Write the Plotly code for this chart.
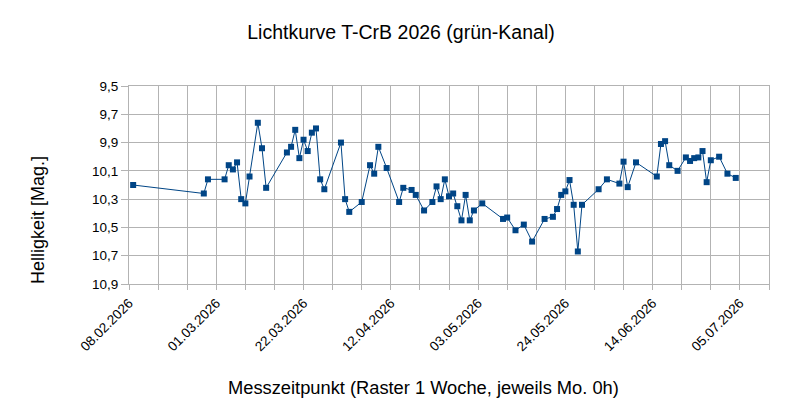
import plotly.graph_objects as go
import pandas as pd

dates = [
    "2026-02-09", "2026-02-26", "2026-02-27", "2026-03-03", "2026-03-04", "2026-03-05",
    "2026-03-06", "2026-03-07", "2026-03-08", "2026-03-09", "2026-03-11", "2026-03-12",
    "2026-03-13", "2026-03-18", "2026-03-19", "2026-03-20", "2026-03-21", "2026-03-22",
    "2026-03-23", "2026-03-24", "2026-03-25", "2026-03-26", "2026-03-27", "2026-03-31",
    "2026-04-01", "2026-04-02", "2026-04-05", "2026-04-07", "2026-04-08", "2026-04-09",
    "2026-04-11", "2026-04-14", "2026-04-15", "2026-04-17", "2026-04-18", "2026-04-20",
    "2026-04-22", "2026-04-23", "2026-04-24", "2026-04-25", "2026-04-26", "2026-04-27",
    "2026-04-28", "2026-04-29", "2026-04-30", "2026-05-01", "2026-05-02", "2026-05-04",
    "2026-05-09", "2026-05-10", "2026-05-12", "2026-05-14", "2026-05-16", "2026-05-19",
    "2026-05-21", "2026-05-22", "2026-05-23", "2026-05-24", "2026-05-25", "2026-05-26",
    "2026-05-27", "2026-05-28", "2026-06-01", "2026-06-03", "2026-06-06", "2026-06-07",
    "2026-06-08", "2026-06-10", "2026-06-15", "2026-06-16", "2026-06-17", "2026-06-18",
    "2026-06-20", "2026-06-22", "2026-06-23", "2026-06-24", "2026-06-25", "2026-06-26",
    "2026-06-27", "2026-06-28", "2026-06-30", "2026-07-02", "2026-07-04",
]
magnitudes = [
    10.20, 10.26, 10.16, 10.16, 10.06, 10.09,
    10.04, 10.30, 10.33, 10.14, 9.76, 9.94,
    10.22, 9.97, 9.93, 9.81, 10.01, 9.88,
    9.96, 9.83, 9.80, 10.16, 10.23, 9.90,
    10.30, 10.39, 10.32, 10.06, 10.12, 9.93,
    10.08, 10.32, 10.22, 10.235, 10.27, 10.38,
    10.32, 10.21, 10.30, 10.16, 10.28, 10.26,
    10.35, 10.45, 10.27, 10.45, 10.38, 10.33,
    10.44, 10.43, 10.52, 10.48, 10.60, 10.44,
    10.425, 10.37, 10.27, 10.245, 10.165, 10.34,
    10.67, 10.34, 10.23, 10.16, 10.19, 10.035,
    10.215, 10.04, 10.14, 9.91, 9.89, 10.06,
    10.10, 10.005, 10.03, 10.01, 10.005, 9.96,
    10.18, 10.025, 10.00, 10.12, 10.15,
]

y_tick_vals = [9.5, 9.7, 9.9, 10.1, 10.3, 10.5, 10.7, 10.9]
y_tick_text = ["9,5", "9,7", "9,9", "10,1", "10,3", "10,5", "10,7", "10,9"]

week_ticks = pd.date_range("2026-02-08", "2026-07-12", freq="7D")
labelled = ["08.02.2026", "01.03.2026", "22.03.2026", "12.04.2026",
            "03.05.2026", "24.05.2026", "14.06.2026", "05.07.2026"]
x_tick_vals = [d.strftime("%Y-%m-%d") for d in week_ticks]
x_tick_text = [d.strftime("%d.%m.%Y") if d.strftime("%d.%m.%Y") in labelled else ""
               for d in week_ticks]

blue = "#004586"
grid = "#b3b3b3"
font = "Liberation Sans, Arial, sans-serif"

fig = go.Figure()
fig.add_trace(go.Scatter(
    x=dates, y=magnitudes, mode="lines+markers",
    line=dict(color=blue, width=1),
    marker=dict(symbol="square", size=6, color=blue),
    showlegend=False,
))

fig.update_layout(
    width=800, height=420,
    margin=dict(l=129, r=31, t=86, b=136),
    paper_bgcolor="white", plot_bgcolor="white",
    font=dict(family=font, color="#000000"),
    title=dict(text="Lichtkurve T-CrB 2026 (grün-Kanal)", x=401 / 800, xanchor="center",
               xref="container",
               y=1 - 32 / 420, yanchor="middle", yref="container",
               font=dict(size=19.5, family=font)),
    xaxis=dict(
        type="date", range=["2026-02-08", "2026-07-12"],
        tickmode="array", tickvals=x_tick_vals, ticktext=x_tick_text,
        tickangle=-45, tickfont=dict(size=13.5),
        showgrid=True, gridcolor=grid, gridwidth=1,
        showline=True, linecolor=grid, linewidth=1, mirror=True,
        ticks="outside", ticklen=5, tickcolor=grid, zeroline=False,
    ),
    yaxis=dict(
        range=[10.9, 9.5],
        tickmode="array", tickvals=y_tick_vals, ticktext=y_tick_text,
        tickfont=dict(size=13.5),
        showgrid=True, gridcolor=grid, gridwidth=1,
        showline=True, linecolor=grid, linewidth=1, mirror=True,
        ticks="outside", ticklen=7, tickcolor=grid, zeroline=False,
    ),
    annotations=[
        dict(text="Messzeitpunkt (Raster 1 Woche, jeweils Mo. 0h)", xref="paper", yref="paper",
             x=(423 - 129) / 640, y=(284 - 387) / 198, xanchor="center", yanchor="middle",
             showarrow=False, font=dict(size=18.3, family=font)),
        dict(text="Helligkeit [Mag.]", xref="paper", yref="paper",
             x=(38 - 129) / 640, y=(284 - 220) / 198, xanchor="center", yanchor="middle",
             textangle=-90, showarrow=False, font=dict(size=18, family=font)),
    ],
)

fig.write_html("out.html")
